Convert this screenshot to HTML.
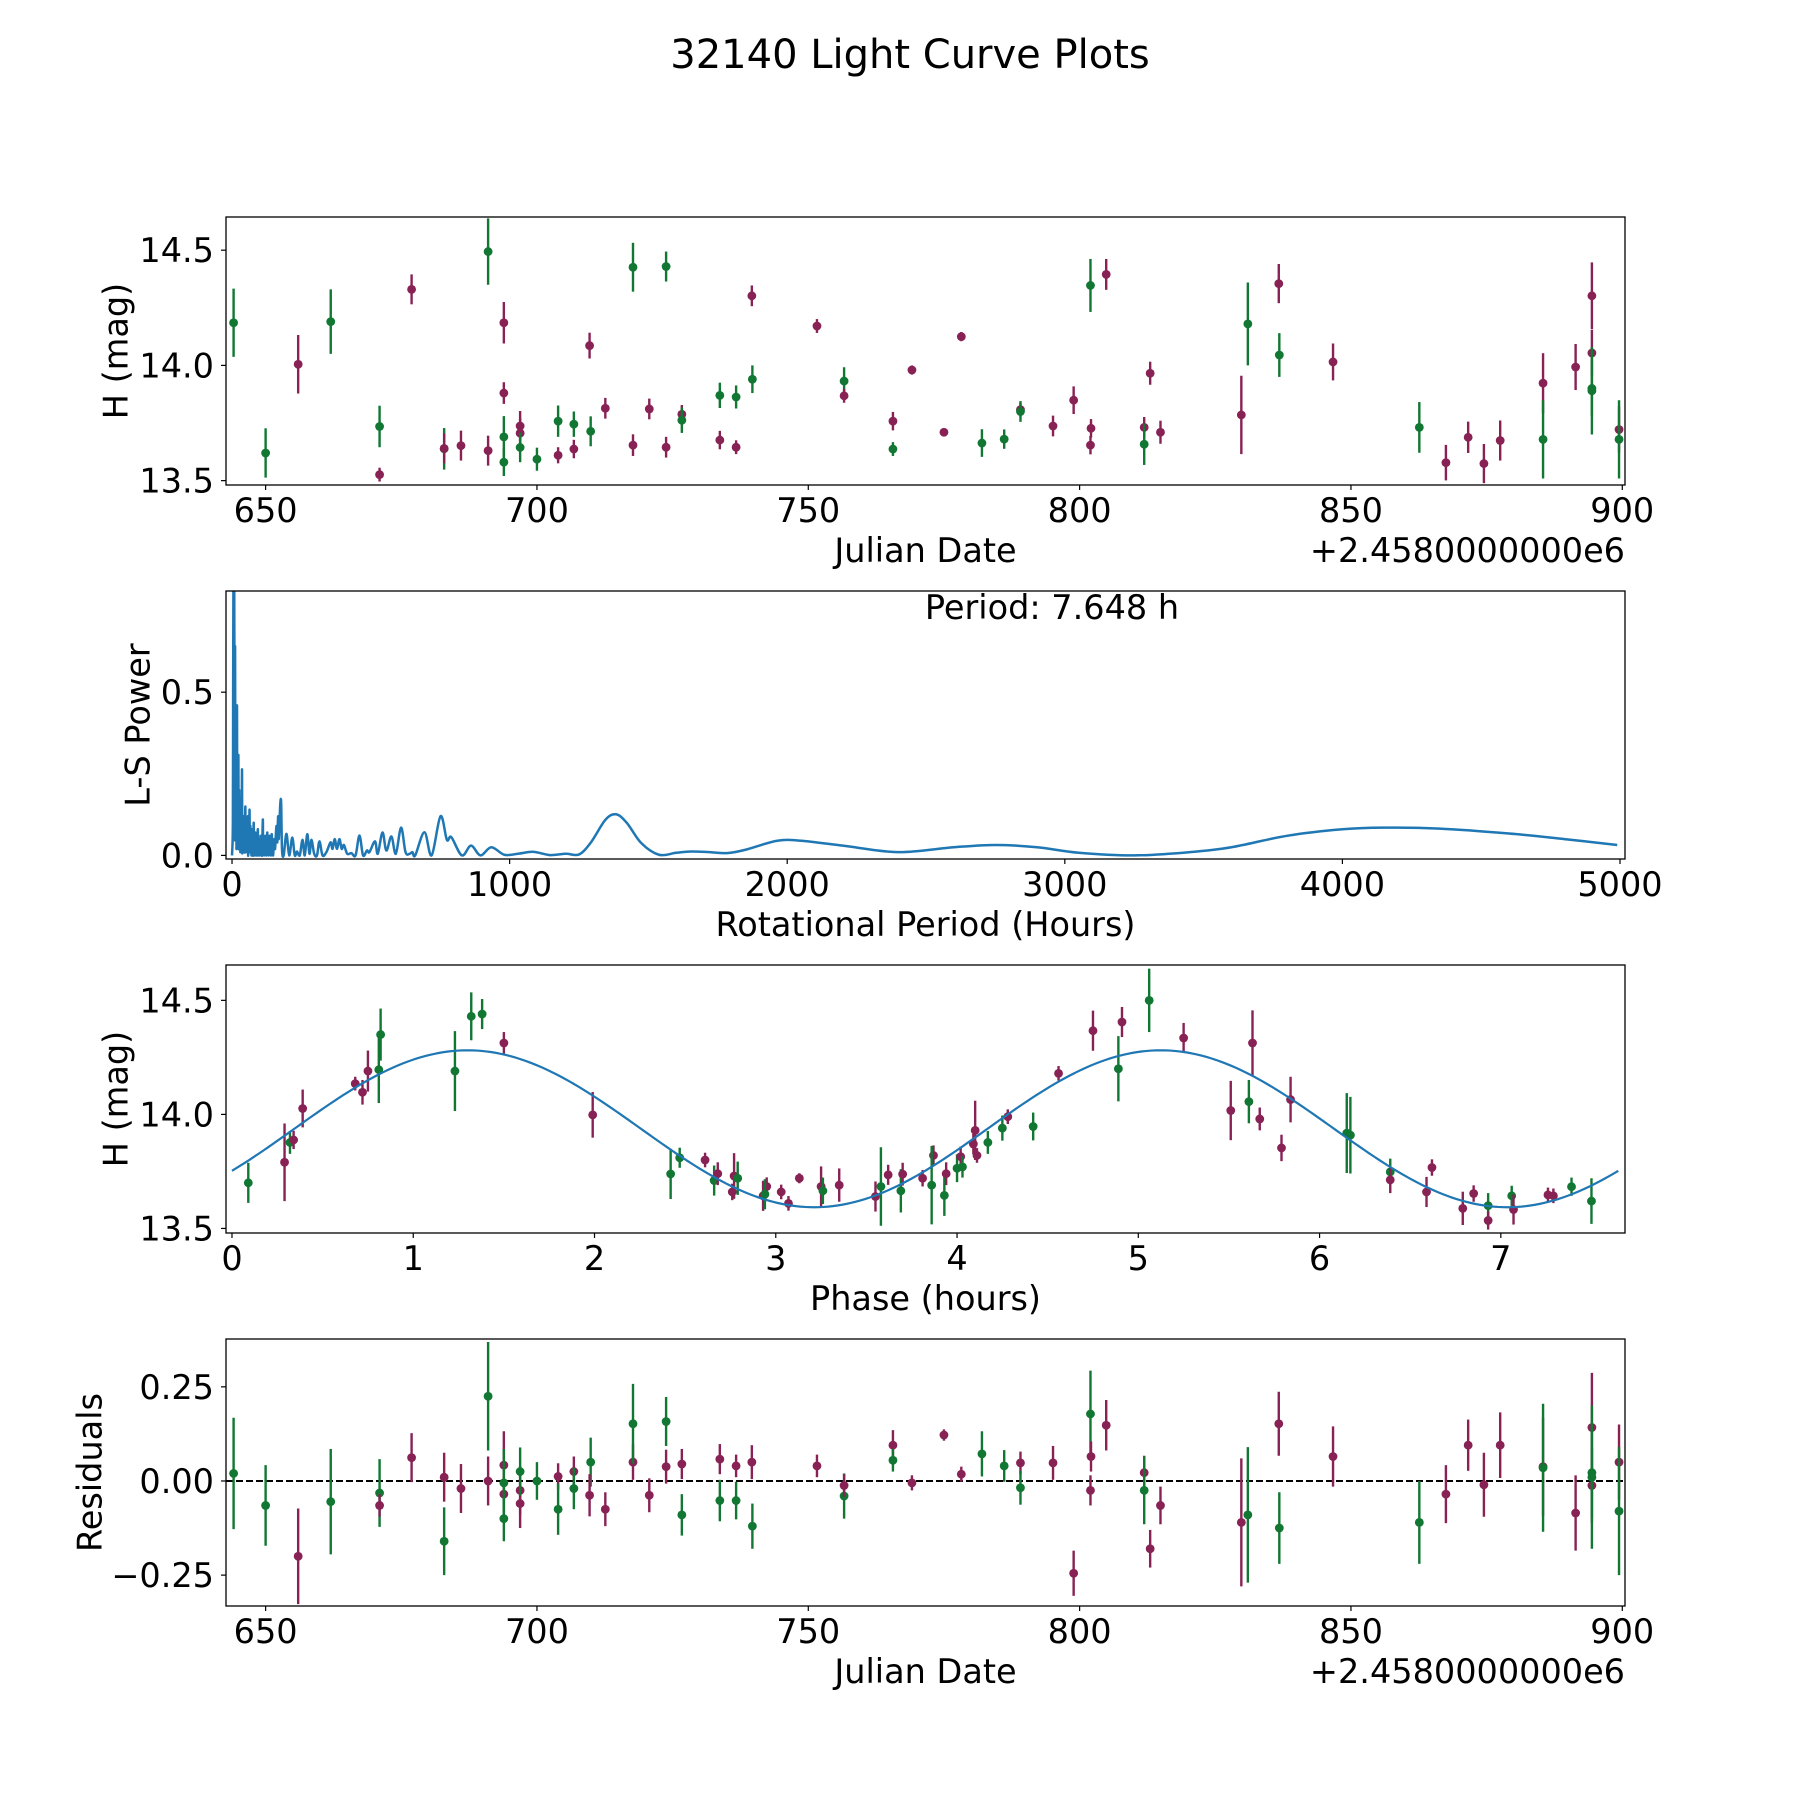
<!DOCTYPE html>
<html><head><meta charset="utf-8">
<style>
html,body{margin:0;padding:0;background:#fff;}
svg text{font-family:"DejaVu Sans","Liberation Sans",sans-serif;fill:#000;}
</style></head>
<body>
<svg id="fig" xmlns="http://www.w3.org/2000/svg" width="1800" height="1800" viewBox="0 0 1800 1800">
<rect x="0" y="0" width="1800" height="1800" fill="#fff"/>
<text x="910" y="68" font-size="40" text-anchor="middle">32140 Light Curve Plots</text>
</svg>
<script>
// ---------- data: observations ----------
const obsDate = [644.1,650.0,656.0,662.0,671.0,671.0,676.9,682.9,682.9,686.0,691.0,691.0,693.9,693.9,693.9,693.9,696.9,696.9,696.9,700.0,703.9,703.9,706.8,706.8,709.9,709.7,712.6,717.7,717.7,720.7,723.8,723.8,726.7,726.7,733.7,733.7,736.7,736.7,739.6,739.7,751.6,756.6,756.6,765.6,765.6,769.1,775.0,778.2,782.0,786.1,789.1,789.1,795.1,798.9,802.0,802.1,802.0,804.9,811.9,811.9,813.0,814.9,829.8,831.0,836.7,836.8,846.7,862.6,867.5,871.6,874.5,877.5,885.4,885.4,891.4,894.4,894.4,894.4,894.4,899.4,899.4];
const obsMag = [14.185,13.62,14.005,14.19,13.735,13.526,14.33,13.638,13.64,13.652,13.63,14.494,14.185,13.88,13.69,13.58,13.737,13.706,13.644,13.593,13.61,13.758,13.637,13.745,13.714,14.086,13.814,13.654,14.426,13.811,13.645,14.429,13.788,13.762,13.676,13.87,13.645,13.863,14.302,13.94,14.171,13.932,13.868,13.758,13.637,13.98,13.71,14.125,13.663,13.68,13.808,13.8,13.737,13.849,14.347,13.727,13.654,14.395,13.731,13.658,13.966,13.71,13.785,14.18,14.355,14.045,14.015,13.731,13.578,13.688,13.574,13.674,13.923,13.679,13.993,14.302,14.054,13.9,13.89,13.722,13.679];
const obsErr = [0.148,0.107,0.127,0.14,0.09,0.03,0.065,0.09,0.065,0.065,0.065,0.144,0.09,0.047,0.09,0.06,0.065,0.065,0.064,0.05,0.035,0.068,0.04,0.055,0.065,0.056,0.045,0.047,0.106,0.045,0.045,0.065,0.04,0.055,0.04,0.055,0.03,0.05,0.045,0.06,0.03,0.06,0.03,0.04,0.03,0.02,0.015,0.02,0.06,0.042,0.03,0.045,0.045,0.06,0.115,0.04,0.04,0.067,0.045,0.09,0.05,0.05,0.17,0.18,0.085,0.095,0.08,0.11,0.077,0.068,0.085,0.087,0.13,0.17,0.1,0.145,0.1,0.12,0.19,0.1,0.17];
const obsBand = ["G","G","M","G","G","M","M","G","M","M","M","G","M","M","G","G","M","M","G","G","M","G","M","G","G","M","M","M","G","M","M","G","M","G","M","G","M","G","M","G","M","G","M","M","G","M","M","M","G","G","M","G","M","M","G","M","M","M","M","G","M","M","M","G","M","G","M","G","M","M","M","M","M","G","M","M","M","G","G","M","G"];
const obsResid = [0.02,-0.065,-0.2,-0.055,-0.032,-0.065,0.062,-0.16,0.01,-0.02,0.0,0.225,0.042,-0.035,-0.005,-0.1,-0.025,-0.06,0.025,0.0,0.012,-0.075,0.025,-0.02,0.05,-0.038,-0.075,0.05,0.152,-0.038,0.038,0.158,0.045,-0.09,0.058,-0.052,0.04,-0.052,0.05,-0.12,0.04,-0.04,-0.012,0.095,0.055,-0.005,0.122,0.018,0.072,0.04,0.048,-0.018,0.048,-0.245,0.178,0.065,-0.025,0.148,0.022,-0.025,-0.18,-0.065,-0.11,-0.09,0.152,-0.125,0.065,-0.11,-0.035,0.095,-0.01,0.095,0.038,0.035,-0.085,0.142,-0.012,0.022,0.01,0.05,-0.08];

// ---------- data: phased light curve ----------
const phPhase = [0.09,0.29,0.32,0.34,0.39,0.68,0.72,0.75,0.81,0.82,1.23,1.32,1.38,1.50,1.99,2.42,2.47,2.61,2.66,2.68,2.76,2.77,2.79,2.93,2.95,2.94,3.03,3.07,3.13,3.25,3.26,3.35,3.55,3.58,3.62,3.69,3.70,3.81,3.87,3.86,3.93,3.94,4.00,4.02,4.03,4.09,4.10,4.11,4.17,4.25,4.28,4.42,4.56,4.75,4.89,4.91,5.06,5.25,5.51,5.61,5.63,5.67,5.79,5.84,6.15,6.17,6.39,6.39,6.62,6.59,6.79,6.85,6.93,6.93,7.06,7.07,7.26,7.29,7.39,7.50];
const phMag = [13.70,13.79,13.877,13.888,14.026,14.135,14.097,14.19,14.196,14.35,14.19,14.43,14.44,14.313,13.998,13.739,13.81,13.80,13.71,13.74,13.66,13.73,13.72,13.643,13.684,13.65,13.66,13.61,13.72,13.684,13.665,13.69,13.64,13.684,13.735,13.665,13.738,13.72,13.82,13.69,13.645,13.74,13.764,13.815,13.77,13.87,13.93,13.82,13.877,13.94,13.99,13.947,14.18,14.367,14.2,14.405,14.50,14.335,14.017,14.056,14.313,13.98,13.853,14.065,13.918,13.909,13.748,13.713,13.767,13.66,13.588,13.653,13.6,13.535,13.643,13.583,13.647,13.643,13.683,13.62];
const phErr = [0.088,0.17,0.05,0.04,0.083,0.03,0.054,0.09,0.146,0.114,0.175,0.105,0.066,0.048,0.1,0.11,0.044,0.032,0.066,0.05,0.036,0.1,0.073,0.066,0.04,0.066,0.032,0.032,0.022,0.088,0.058,0.073,0.066,0.172,0.044,0.095,0.05,0.036,0.044,0.172,0.09,0.05,0.061,0.044,0.047,0.044,0.13,0.032,0.05,0.055,0.032,0.061,0.032,0.088,0.143,0.066,0.139,0.066,0.13,0.095,0.143,0.05,0.058,0.1,0.175,0.168,0.058,0.058,0.036,0.066,0.073,0.036,0.055,0.04,0.044,0.066,0.032,0.032,0.04,0.1];
const phBand = ["G","M","G","M","M","M","M","M","G","G","G","G","G","M","M","G","G","M","G","M","M","M","G","M","M","G","M","M","M","M","G","M","M","G","M","G","M","M","M","G","G","M","G","M","G","M","M","M","G","G","M","G","M","M","G","M","G","M","M","G","M","M","M","M","G","G","G","M","M","M","M","M","G","M","G","M","M","M","G","G"];
// fitted sinusoid parameters (mean, amplitude, peak phase, period in hours)
const fitMean = [13.937];
const fitAmp = [0.344];
const fitPeak = [1.30];
const fitPeriod = [3.824];
const fitRange = [0, 7.648];

// ---------- data: periodogram ----------
const lsPeriod = [0,3,4,5,6,7,8,9,10,11,12,13,14,15,16,17,18,19,20,21,22,23,24,26,27,29,30,32,33,35,36,37,39,40,42,43,45,46,48,49,51,52,54,55,57,58,60,61,63,64,66,67,69,70,72,73,75,76,78,79,81,82,84,85,87,88,90,91,93,94,96,97,99,100,103,104,107,108,111,112,115,116,119,120,123,124,127,128,131,132,135,136,139,140,143,144,147,148,152,155,160,163,166,168,171,174,177,180,186,196,206,217,226,234,244,254,262,271,279,286,296,306,315,326,340,355,362,370,378,387,395,403,415,430,445,459,472,486,495,515,525,542,556,574,590,609,625,640,650,660,693,719,751,774,790,828,861,895,934,981,1030,1086,1145,1203,1250,1293,1345,1383,1422,1474,1538,1600,1654,1720,1783,1848,1964,2050,2200,2400,2600,2750,2900,3050,3250,3450,3600,3800,4000,4150,4350,4600,4800,4990];
const lsPower = [0,0.1,0.5,0.82,0.82,0.3,0.82,0.4,0.05,0.64,0.2,0.45,0.05,0.38,0.02,0.3,0.45,0.03,0.3,0.1,0.22,0.3,0.02,0.2,0.02,0.15,0.01,0.12,0.02,0.15,0.26,0.01,0.1,0.01,0.12,0.02,0.08,0.01,0.15,0.01,0.1,0.02,0.07,0.01,0.12,0.0,0.06,0.01,0.14,0.02,0.09,0.01,0.06,0.0,0.08,0.01,0.05,0.0,0.1,0.02,0.05,0.0,0.07,0.01,0.04,0.0,0.06,0.02,0.08,0.0,0.05,0.01,0.04,0.0,0.06,0.01,0.05,0.0,0.11,0.02,0.05,0.0,0.06,0.01,0.04,0.0,0.07,0.01,0.05,0.0,0.06,0.01,0.04,0.0,0.065,0.01,0.03,0.0,0.05,0.02,0.09,0.04,0.12,0.05,0.1,0.16,0.16,0.02,0.0,0.066,0.0,0.055,0.0,0.012,0.0,0.048,0.0,0.065,0.005,0.048,0.005,0.0,0.043,0.0,0.01,0.04,0.02,0.05,0.02,0.05,0.02,0.032,0.005,0.007,0.0,0.061,0.0,0.015,0.01,0.043,0.005,0.07,0.015,0.058,0.005,0.085,0.01,0.005,0.01,0.0,0.071,0.0,0.12,0.048,0.056,0.0,0.03,0.0,0.025,0.002,0.005,0.011,0.001,0.005,0.003,0.04,0.109,0.126,0.1,0.038,0.002,0.008,0.012,0.01,0.007,0.017,0.045,0.045,0.03,0.01,0.025,0.032,0.025,0.008,0.0,0.01,0.025,0.06,0.08,0.085,0.082,0.067,0.05,0.032];
const periodLabel = ["Period: 7.648 h"];

// ---------- tick labels ----------
const dateTicks = [650,700,750,800,850,900];
const magTicks = [13.5,14.0,14.5];
const magTickLabels = ["13.5","14.0","14.5"];
const lsXTicks = [0,1000,2000,3000,4000,5000];
const lsYTicks = [0.0,0.5];
const lsYTickLabels = ["0.0","0.5"];
const phaseTicks = [0,1,2,3,4,5,6,7];
const resTicks = [-0.25,0.0,0.25];
const resTickLabels = ["\u22120.25","0.00","0.25"];

// ---------- layout ----------
const NS = "http://www.w3.org/2000/svg";
const svg = document.getElementById("fig");
const COL = {G:"#117733", M:"#882255"};
const FS = 33.5;
const L = 226, R = 1625;
const panels = [
  {top:217, bot:485, x0:642.7, x1:900.5, y0:13.481, y1:14.644},
  {top:591, bot:859, x0:-21.7, x1:5018, y0:-0.011, y1:0.81},
  {top:965, bot:1233, x0:-0.033, x1:7.685, y0:13.48, y1:14.655},
  {top:1339, bot:1606, x0:642.7, x1:900.5, y0:-0.332, y1:0.377}
];
function mk(tag, attrs, parent){ const e=document.createElementNS(NS,tag); for(const k in attrs) e.setAttribute(k,attrs[k]); (parent||svg).appendChild(e); return e; }
function sx(p,v){ return L + (v-p.x0)/(p.x1-p.x0)*(R-L); }
function sy(p,v){ return p.bot - (v-p.y0)/(p.y1-p.y0)*(p.bot-p.top); }

function axes(idx, name, xt, xtl, yt, ytl, xlabel, ylabel, ylabX, offset){
  const p = panels[idx];
  const g = mk("g",{});
  
  
  const cp = mk("clipPath",{id:"clip"+idx}, g);
  mk("rect",{x:L,y:p.top,width:R-L,height:p.bot-p.top}, cp);
  const plot = mk("g",{"clip-path":"url(#clip"+idx+")"}, g);
  
  
  const frame = mk("rect",{x:L,y:p.top,width:R-L,height:p.bot-p.top,fill:"none",stroke:"#000","stroke-width":1.3});
  
  
  xt.forEach((v,i)=>{
    const x = sx(p,v);
    const t = mk("line",{x1:x,x2:x,y1:p.bot,y2:p.bot+5,stroke:"#000","stroke-width":1.2});
    
    
    const tx = mk("text",{x:x,y:p.bot+37,"font-size":FS,"text-anchor":"middle"});
    tx.textContent = xtl[i];
    
    
  });
  yt.forEach((v,i)=>{
    const y = sy(p,v);
    const t = mk("line",{x1:L-5,x2:L,y1:y,y2:y,stroke:"#000","stroke-width":1.2});
    
    
    const tx = mk("text",{x:L-12,y:y+12,"font-size":FS,"text-anchor":"end"});
    tx.textContent = ytl[i];
    
    
  });
  const xl = mk("text",{x:(L+R)/2,y:p.bot+77,"font-size":FS,"text-anchor":"middle"});
  xl.textContent = xlabel;
  
  
  const cy = (p.top+p.bot)/2;
  const yl = mk("text",{x:ylabX,y:cy,"font-size":FS,"text-anchor":"middle","dominant-baseline":"central",transform:"rotate(-90 "+ylabX+" "+cy+")"});
  yl.textContent = ylabel;
  
  
  if(offset){
    const ot = mk("text",{x:R,y:p.bot+77,"font-size":FS,"text-anchor":"end"});
    ot.textContent = offset;
    
    
  }
  return plot;
}
function errpt(p, plot, x, y, e, band){
  const c = COL[band];
  const X = sx(p,x);
  const b = mk("line",{x1:X,x2:X,y1:sy(p,y-e),y2:sy(p,y+e),stroke:c,"stroke-width":2.4}, plot);
  
  
  const d = mk("circle",{cx:X,cy:sy(p,y),r:4.4,fill:c}, plot);
  
  
}
function smoothPath(xs, ys){
  let d = "M"+xs[0].toFixed(2)+","+ys[0].toFixed(2);
  for(let i=0;i<xs.length-1;i++){
    const x0=xs[Math.max(0,i-1)], y0=ys[Math.max(0,i-1)];
    const x1=xs[i], y1=ys[i], x2=xs[i+1], y2=ys[i+1];
    const x3=xs[Math.min(xs.length-1,i+2)], y3=ys[Math.min(xs.length-1,i+2)];
    const c1x=x1+(x2-x0)/6, c1y=y1+(y2-y0)/6, c2x=x2-(x3-x1)/6, c2y=y2-(y3-y1)/6;
    d += " C"+c1x.toFixed(2)+","+c1y.toFixed(2)+" "+c2x.toFixed(2)+","+c2y.toFixed(2)+" "+x2.toFixed(2)+","+y2.toFixed(2);
  }
  return d;
}
const dateLabels = dateTicks.map(String);

// Panel 1: light curve
const p1 = axes(0,"light-curve-panel",dateTicks,dateLabels,magTicks,magTickLabels,"Julian Date","H (mag)",116,"+2.4580000000e6");
obsDate.forEach((d,i)=>errpt(panels[0],p1,d,obsMag[i],obsErr[i],obsBand[i]));

// Panel 2: periodogram
const p2 = axes(1,"periodogram-panel",lsXTicks,lsXTicks.map(String),lsYTicks,lsYTickLabels,"Rotational Period (Hours)","L-S Power",138,null);
{
  const p = panels[1];
  const xs = lsPeriod.map(v=>sx(p,v)), ys = lsPower.map(v=>sy(p,v));
  const pl = mk("path",{d:smoothPath(xs,ys),fill:"none",stroke:"#1f77b4","stroke-width":2.5,"stroke-linejoin":"round"}, p2);
  
  
  const t = mk("text",{x:1052,y:619,"font-size":FS,"text-anchor":"middle"});
  t.textContent = periodLabel[0];
  
  
}

// Panel 3: phased
const p3 = axes(2,"phased-panel",phaseTicks,phaseTicks.map(String),magTicks,magTickLabels,"Phase (hours)","H (mag)",116,null);
phPhase.forEach((ph,i)=>errpt(panels[2],p3,ph,phMag[i],phErr[i],phBand[i]));
{
  const p = panels[2];
  const pts = [];
  const n = 300;
  for(let k=0;k<=n;k++){
    const ph = fitRange[0] + (fitRange[1]-fitRange[0])*k/n;
    const m = fitMean[0] + fitAmp[0]*Math.cos(2*Math.PI*(ph-fitPeak[0])/fitPeriod[0]);
    pts.push(sx(p,ph).toFixed(2)+","+sy(p,m).toFixed(2));
  }
  const pl = mk("polyline",{points:pts.join(" "),fill:"none",stroke:"#1f77b4","stroke-width":2.2}, p3);
  
  
}

// Panel 4: residuals
const p4 = axes(3,"residuals-panel",dateTicks,dateLabels,resTicks,resTickLabels,"Julian Date","Residuals",90,"+2.4580000000e6");
{
  const p = panels[3];
  const zl = mk("line",{x1:L,x2:R,y1:sy(p,0),y2:sy(p,0),stroke:"#000","stroke-width":2,"stroke-dasharray":"7,3"}, p4);
  
  
  obsDate.forEach((d,i)=>errpt(p,p4,d,obsResid[i],obsErr[i],obsBand[i]));
}
</script>
</body></html>
